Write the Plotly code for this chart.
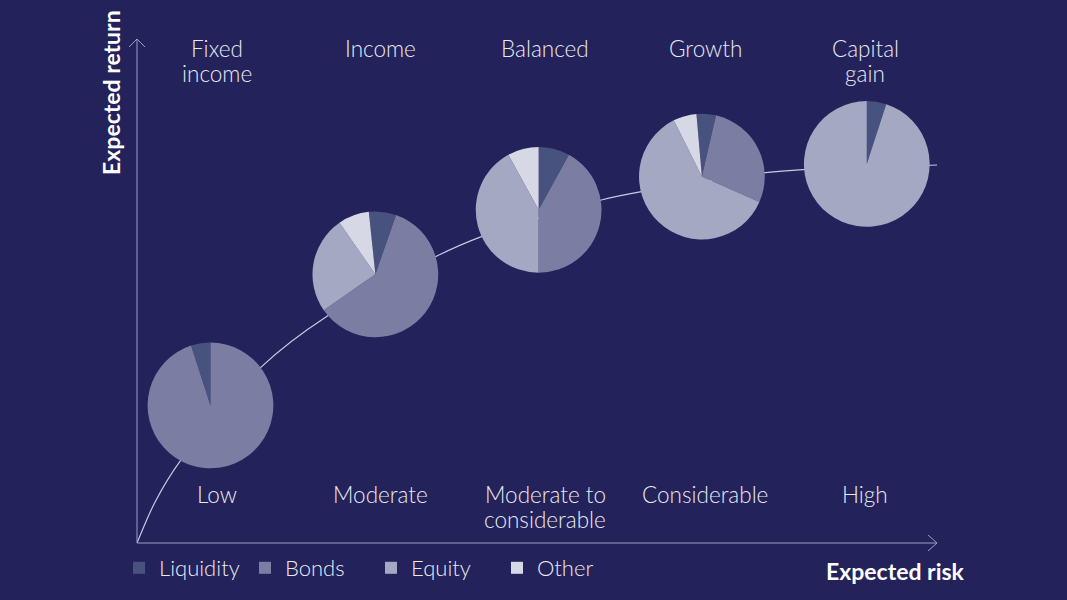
import plotly.graph_objects as go

# ---------------- data ----------------
asset_classes = ["Liquidity", "Bonds", "Equity", "Other"]
profiles = ["Fixed<br>income", "Income", "Balanced", "Growth", "Capital<br>gain"]
risk_levels = ["Low", "Moderate", "Moderate to<br>considerable", "Considerable", "High"]

fixed_income = [5, 95, 0, 0]
income = [7, 60, 25, 8]
balanced = [8, 42, 42, 8]
growth = [5, 28, 61, 6]
capital_gain = [5, 0, 95, 0]

pie_risk = [0.45, 1.46, 2.46, 3.46, 4.47]
pie_return = [2.73, 5.33, 6.61, 7.27, 7.52]

curve_risk = [0, 0.11, 0.263, 0.76, 1.164, 1.84, 2.11, 2.85, 3.09, 3.85, 4.08, 4.9]
curve_return = [0, 0.81, 1.62, 3.49, 4.50, 5.70, 6.08, 6.81, 6.97, 7.35, 7.41, 7.5]

# ---------------- style / layout ----------------
W, H = 1067, 600
ML, MR, MT, MB = 137, 130, 39, 56
PW, PH = W - ML - MR, H - MT - MB
X_RANGE = [0, 4.9]
Y_RANGE = [0, 10]
R_PX = 63
rotations = [-18, -6, 0, -5, 0]
BG = "#23225a"
COLORS = ["#47527f", "#7b7ea2", "#a5a8c2", "#d6d8e5"]
AXIS_COL = "#9c9dc8"
TXT = "#e9e9f2"
FONT = "Lato"
LABEL_SIZE = 22.5
LINE_STEP = 25


def px_x(v):
    return ML + (v - X_RANGE[0]) / (X_RANGE[1] - X_RANGE[0]) * PW


def px_y(v):
    return MT + PH - (v - Y_RANGE[0]) / (Y_RANGE[1] - Y_RANGE[0]) * PH


def paper_y(py):
    return (MT + PH - py) / PH


fig = go.Figure()

# curve
fig.add_trace(go.Scatter(
    x=curve_risk, y=curve_return, mode="lines",
    line=dict(color="#c9cae2", width=1.2, shape="spline", smoothing=0.8),
    showlegend=False, hoverinfo="skip"))

all_values = [fixed_income, income, balanced, growth, capital_gain]
for i, vals in enumerate(all_values):
    cx, cy = px_x(pie_risk[i]), px_y(pie_return[i])
    dx0 = (cx - R_PX - ML) / PW
    dx1 = (cx + R_PX - ML) / PW
    dy0 = paper_y(cy + R_PX)
    dy1 = paper_y(cy - R_PX)
    fig.add_trace(go.Pie(
        labels=asset_classes, values=vals, sort=False, direction="clockwise",
        rotation=rotations[i], textinfo="none",
        marker=dict(colors=COLORS, line=dict(width=0)),
        domain=dict(x=[dx0, dx1], y=[dy0, dy1]),
        showlegend=(i == 2), name=profiles[i].replace("<br>", " ")))

annotations = []
label_x = [0.49, 1.49, 2.5, 3.48, 4.46]


def add_lines(text, x, first_center_py):
    for k, line in enumerate(text.split("<br>")):
        annotations.append(dict(
            x=x, y=paper_y(first_center_py + k * LINE_STEP), xref="x", yref="paper",
            text=line, showarrow=False, xanchor="center", yanchor="middle",
            font=dict(family=FONT, size=LABEL_SIZE, color=TXT, weight=300)))


for i in range(5):
    add_lines(profiles[i], label_x[i], 49)
    add_lines(risk_levels[i], label_x[i], 495)

annotations.append(dict(
    x=(111 - ML) / PW, y=paper_y(93), xref="paper", yref="paper",
    text="Expected return", textangle=-90, showarrow=False,
    xanchor="center", yanchor="middle",
    font=dict(family=FONT, size=23, color="#ffffff", weight=700)))
annotations.append(dict(
    x=(895 - ML) / PW, y=paper_y(572), xref="paper", yref="paper",
    text="Expected risk", showarrow=False, xanchor="center", yanchor="middle",
    font=dict(family=FONT, size=23, color="#ffffff", weight=700)))

shapes = [
    dict(type="line", xref="paper", yref="paper", x0=0, x1=0, y0=0, y1=1,
         line=dict(color=AXIS_COL, width=1)),
    dict(type="line", xref="paper", yref="paper", x0=0, x1=1, y0=0, y1=0,
         line=dict(color=AXIS_COL, width=1)),
    dict(type="path", xref="paper", yref="paper",
         path="M {} {} L {} {} L {} {}".format(-8 / PW, 1 - 8 / PH, 0, 1, 8 / PW, 1 - 8 / PH),
         line=dict(color=AXIS_COL, width=1)),
    dict(type="path", xref="paper", yref="paper",
         path="M {} {} L {} {} L {} {}".format(1 - 9 / PW, 8 / PH, 1, 0, 1 - 9 / PW, -8 / PH),
         line=dict(color=AXIS_COL, width=1)),
]

fig.update_layout(
    width=W, height=H,
    margin=dict(l=ML, r=MR, t=MT, b=MB),
    paper_bgcolor=BG, plot_bgcolor=BG,
    xaxis=dict(range=X_RANGE, visible=False, fixedrange=True),
    yaxis=dict(range=Y_RANGE, visible=False, fixedrange=True),
    annotations=annotations, shapes=shapes,
    legend=dict(orientation="h", x=-18 / PW, xanchor="left",
                y=paper_y(568), yanchor="middle",
                entrywidth=81, entrywidthmode="pixels",
                font=dict(family=FONT, size=22, color=TXT, weight=300),
                bgcolor="rgba(0,0,0,0)", itemclick=False),
)

fig.write_html("out.html")
